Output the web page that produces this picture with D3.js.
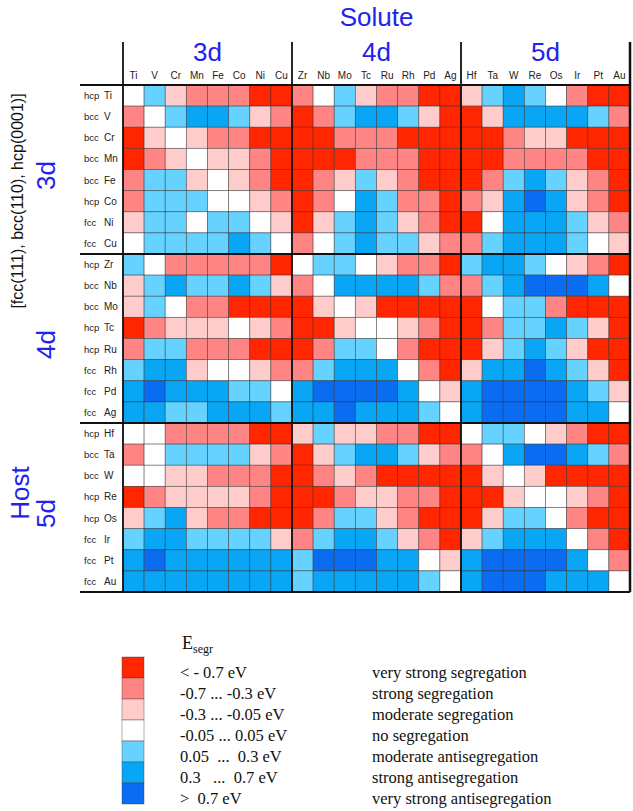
<!DOCTYPE html>
<html lang="en">
<head>
<meta charset="utf-8">
<title>Segregation energies</title>
<script src="https://cdnjs.cloudflare.com/ajax/libs/d3/7.8.5/d3.min.js"></script>
<style>
  body { margin: 0; background: #fff; }
  svg { display: block; }
  .blue { fill: #2222ee; font-family: Helvetica, Arial, "Liberation Sans", sans-serif; }
  .tick-lab { font-family: Helvetica, Arial, "Liberation Sans", sans-serif; font-size: 10px; fill: #222; }
  .serif { font-family: "Liberation Serif", "DejaVu Serif", serif; fill: #111; }
</style>
</head>
<body>
<div id="chart"></div>
<script>
// solutes (columns) and hosts (rows), same order
const solutes = ["Ti","V","Cr","Mn","Fe","Co","Ni","Cu","Zr","Nb","Mo","Tc","Ru","Rh","Pd","Ag","Hf","Ta","W","Re","Os","Ir","Pt","Au"];
const hosts = solutes.slice();
const hostLattice = ["hcp","bcc","bcc","bcc","bcc","hcp","fcc","fcc","hcp","bcc","bcc","hcp","hcp","fcc","fcc","fcc","hcp","bcc","bcc","hcp","hcp","fcc","fcc","fcc"];
const groups = ["3d","4d","5d"];

// segregation class per cell: 0 = very strong segregation ... 6 = very strong antisegregation
const segr3dHosts = [
  [3,4,2,1,1,1,0,0, 1,3,4,2,1,1,0,0, 2,4,5,4,3,1,0,0],
  [1,3,4,5,5,4,2,1, 0,1,4,5,5,4,2,0, 0,2,5,5,5,5,4,1],
  [0,2,3,2,1,1,0,0, 0,0,1,1,1,0,0,0, 0,0,1,2,2,0,0,0],
  [0,1,2,3,2,2,1,0, 0,0,0,1,1,1,0,0, 0,0,1,1,1,1,0,0],
  [1,4,4,2,3,2,1,0, 0,1,2,4,2,1,0,0, 0,1,4,5,4,2,1,0],
  [1,4,4,4,3,3,2,1, 0,1,3,5,4,1,1,0, 1,2,5,6,5,2,1,0],
  [2,4,4,3,4,4,3,2, 0,2,4,5,4,2,1,0, 0,3,5,5,5,4,2,1],
  [3,4,4,4,4,5,4,3, 1,3,4,5,4,4,2,1, 1,4,5,5,5,4,3,2]
];
const segr4dHosts = [
  [4,3,1,1,1,1,1,0, 3,4,4,3,2,1,1,0, 4,5,5,4,3,2,1,0],
  [2,4,5,4,4,5,4,2, 1,3,5,5,5,5,4,1, 1,4,5,6,6,6,5,3],
  [2,4,3,1,1,0,0,0, 0,2,3,2,0,0,0,0, 0,3,4,4,1,0,0,0],
  [0,1,2,2,2,3,2,1, 0,0,2,3,3,2,1,0, 0,1,4,4,5,4,2,0],
  [1,4,4,1,1,1,0,0, 0,1,4,4,3,1,0,0, 0,2,4,5,4,2,0,0],
  [4,5,5,2,3,3,2,1, 1,4,5,5,5,3,1,0, 2,5,5,6,5,4,2,0],
  [5,6,5,5,5,4,4,3, 5,6,6,6,6,5,3,2, 5,6,6,6,6,5,4,2],
  [5,5,4,4,5,5,5,4, 5,5,6,5,5,5,4,3, 5,6,6,6,6,5,5,3]
];
const segr5dHosts = [
  [3,3,1,1,1,1,0,0, 2,4,2,2,1,1,0,0, 3,4,4,3,2,1,0,0],
  [1,3,4,4,4,4,2,1, 0,2,4,5,5,4,2,1, 1,3,5,6,6,5,4,1],
  [3,3,2,2,1,1,1,0, 0,1,2,1,0,0,0,0, 0,2,3,2,0,0,0,0],
  [0,1,2,2,2,2,1,0, 0,0,1,2,2,1,1,0, 0,0,2,3,3,2,1,0],
  [2,4,5,2,1,1,0,0, 0,1,4,4,2,1,0,0, 0,2,4,4,3,1,0,0],
  [4,5,5,4,4,4,4,2, 1,4,5,5,4,2,1,0, 2,4,5,5,5,3,1,0],
  [5,6,5,5,5,5,5,5, 4,6,6,6,5,5,3,2, 5,6,6,6,6,5,3,1],
  [5,5,5,5,5,5,5,5, 4,5,5,5,5,5,4,3, 5,6,6,6,5,5,5,3]
];

const levelRanges = ["< - 0.7 eV","-0.7 ... -0.3 eV","-0.3 ... -0.05 eV","-0.05 ... 0.05 eV","0.05  ...  0.3 eV","0.3   ...  0.7 eV",">  0.7 eV"];
const levelNames = ["very strong segregation","strong segregation","moderate segregation","no segregation","moderate antisegregation","strong antisegregation","very strong antisegregation"];
const levelColors = ["#ff2600","#ff8585","#ffcccc","#ffffff","#66d2ff","#08a6f5","#0a6cf0"];

const width = 633, height = 811;
const grid = {left: 123, right: 630, top: 85, bottom: 592};

const svg = d3.select("#chart").append("svg")
  .attr("width", width).attr("height", height);

const x = d3.scaleBand().domain(solutes).range([grid.left, grid.right]);
const y = d3.scaleBand().domain(hosts).range([grid.top, grid.bottom]);
const color = d3.scaleOrdinal().domain(d3.range(7)).range(levelColors);

const rows = segr3dHosts.concat(segr4dHosts, segr5dHosts);
const cells = [];
rows.forEach((r, i) => r.forEach((v, j) => cells.push({host: hosts[i], solute: solutes[j], v: v})));

// cells
svg.append("g").selectAll("rect")
  .data(cells).enter().append("rect")
    .attr("x", d => x(d.solute))
    .attr("y", d => y(d.host))
    .attr("width", x.bandwidth())
    .attr("height", y.bandwidth())
    .attr("fill", d => color(d.v))
    .attr("stroke", "rgba(40,40,40,0.55)")
    .attr("stroke-width", 0.8);

// block separators
const blockX = [0, 8, 16].map(i => x(solutes[i])).concat([grid.right]);
const blockY = [0, 8, 16].map(i => y(hosts[i])).concat([grid.bottom]);
const lines = svg.append("g").attr("stroke", "#111").attr("stroke-width", 1.8);
blockX.forEach((bx, i) => {
  lines.append("line").attr("x1", bx).attr("x2", bx)
    .attr("y1", 42).attr("y2", grid.bottom)
    .attr("stroke-width", i == 3 ? 2.5 : 1.8);
});
blockY.forEach(by => {
  lines.append("line").attr("x1", 80).attr("x2", grid.right).attr("y1", by).attr("y2", by);
});

// column labels
svg.append("g").selectAll("text")
  .data(solutes).enter().append("text")
    .attr("class", "tick-lab")
    .attr("x", d => x(d) + x.bandwidth() / 2)
    .attr("y", 79)
    .attr("text-anchor", "middle")
    .text(d => d);

// row labels
const rowLab = svg.append("g");
rowLab.selectAll("text.lat")
  .data(hosts).enter().append("text")
    .attr("class", "tick-lab")
    .attr("x", 84)
    .attr("y", d => y(d) + y.bandwidth() / 2 + 3.5)
    .style("font-size", "9.5px")
    .text((d, i) => hostLattice[i]);
rowLab.selectAll("text.el")
  .data(hosts).enter().append("text")
    .attr("class", "tick-lab")
    .attr("x", 104)
    .attr("y", d => y(d) + y.bandwidth() / 2 + 3.5)
    .text(d => d);

// titles
svg.append("text").attr("class", "blue")
  .attr("x", (grid.left + grid.right) / 2).attr("y", 26)
  .attr("text-anchor", "middle").style("font-size", "26px").text("Solute");

groups.forEach((g, i) => {
  svg.append("text").attr("class", "blue")
    .attr("x", (blockX[i] + blockX[i + 1]) / 2).attr("y", 61)
    .attr("text-anchor", "middle").style("font-size", "26px").text(g);
  const cy = (blockY[i] + blockY[i + 1]) / 2;
  svg.append("text").attr("class", "blue")
    .attr("transform", `translate(55,${cy + 6}) rotate(-90)`)
    .attr("text-anchor", "middle").style("font-size", "26px").text(g);
});

svg.append("text").attr("class", "blue")
  .attr("transform", "translate(29,493) rotate(-90)")
  .attr("text-anchor", "middle").style("font-size", "26px").text("Host");

svg.append("text")
  .attr("transform", "translate(23,201) rotate(-90)")
  .attr("text-anchor", "middle")
  .style("font-family", "Helvetica, Arial, 'Liberation Sans', sans-serif")
  .style("font-size", "16px").attr("fill", "#111")
  .text("[fcc(111), bcc(110), hcp(0001)]");

// legend
const legY = d3.scaleBand().domain(d3.range(7)).range([657, 804]);
const leg = svg.append("g");
leg.selectAll("rect").data(d3.range(7)).enter().append("rect")
  .attr("x", 122).attr("y", d => legY(d))
  .attr("width", 22).attr("height", legY.bandwidth())
  .attr("fill", d => color(d))
  .attr("stroke", "rgba(60,60,60,0.5)").attr("stroke-width", 0.8);

leg.selectAll("text.rng").data(levelRanges).enter().append("text")
  .attr("class", "serif")
  .attr("x", 180).attr("y", (d, i) => legY(i) + legY.bandwidth() / 2 + 10)
  .style("font-size", "16.5px").style("white-space", "pre")
  .attr("xml:space", "preserve")
  .text(d => d);

leg.selectAll("text.nm").data(levelNames).enter().append("text")
  .attr("class", "serif")
  .attr("x", 372).attr("y", (d, i) => legY(i) + legY.bandwidth() / 2 + 10)
  .style("font-size", "16.5px")
  .text(d => d);

const et = svg.append("text").attr("class", "serif")
  .attr("x", 182).attr("y", 649).style("font-size", "18px");
et.append("tspan").text("E");
et.append("tspan").attr("dy", 4).style("font-size", "12px").text("segr");
</script>
</body>
</html>
